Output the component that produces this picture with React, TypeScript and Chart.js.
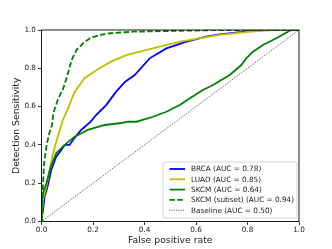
import React, { useEffect, useRef } from "react";
import { Chart, registerables } from "chart.js";

Chart.register(...registerables);

const brcaFpr = [0, 0.0, 0.006, 0.012, 0.023, 0.038, 0.057, 0.077, 0.09, 0.109, 0.122, 0.154, 0.19, 0.212, 0.251, 0.29, 0.325, 0.362, 0.42, 0.485, 0.563, 0.64, 0.692, 0.78, 0.85, 1.0];
const brcaTpr = [0, 0.01, 0.06, 0.13, 0.18, 0.27, 0.338, 0.373, 0.4, 0.4, 0.426, 0.478, 0.52, 0.556, 0.608, 0.678, 0.73, 0.765, 0.852, 0.904, 0.939, 0.965, 0.977, 0.99, 1.0, 1.0];

const luadFpr = [0, 0.005, 0.01, 0.019, 0.03, 0.045, 0.06, 0.077, 0.083, 0.103, 0.129, 0.167, 0.225, 0.27, 0.329, 0.432, 0.537, 0.692, 0.8, 0.9, 1.0];
const luadTpr = [0, 0.1, 0.14, 0.182, 0.26, 0.356, 0.43, 0.504, 0.53, 0.591, 0.678, 0.748, 0.8, 0.835, 0.869, 0.904, 0.939, 0.974, 0.99, 1.0, 1.0];

const skcmFpr = [0, 0.002, 0.006, 0.019, 0.036, 0.057, 0.09, 0.129, 0.18, 0.245, 0.304, 0.335, 0.369, 0.433, 0.485, 0.537, 0.576, 0.627, 0.666, 0.731, 0.776, 0.795, 0.821, 0.86, 0.912, 0.957, 0.97, 1.0];
const skcmTpr = [0, 0.1, 0.15, 0.2, 0.286, 0.356, 0.4, 0.443, 0.478, 0.504, 0.513, 0.521, 0.521, 0.547, 0.573, 0.608, 0.643, 0.687, 0.713, 0.765, 0.817, 0.852, 0.887, 0.922, 0.957, 0.991, 1.0, 1.0];

const subsetFpr = [0, 0.004, 0.01, 0.02, 0.03, 0.041, 0.046, 0.065, 0.083, 0.1, 0.117, 0.136, 0.162, 0.188, 0.227, 0.266, 0.355, 0.5, 0.7, 1.0];
const subsetTpr = [0, 0.15, 0.3, 0.4, 0.46, 0.504, 0.565, 0.643, 0.69, 0.76, 0.843, 0.896, 0.931, 0.957, 0.974, 0.983, 0.991, 0.995, 1.0, 1.0];

const baseFpr = [0, 1];
const baseTpr = [0, 1];

const seriesLabels = [
  "BRCA (AUC = 0.78)",
  "LUAD (AUC = 0.85)",
  "SKCM (AUC = 0.64)",
  "SKCM (subset) (AUC = 0.94)",
  "Baseline (AUC = 0.50)",
];
const axisTicks = [0, 0.2, 0.4, 0.6, 0.8, 1.0];

const FONT = "'DejaVu Sans', sans-serif";

const zip = (xs: number[], ys: number[]) => xs.map((x, i) => ({ x, y: ys[i] }));

const framePlugin = {
  id: "frame",
  afterDatasetsDraw(chart: any) {
    const { ctx, chartArea: a } = chart;
    ctx.save();
    ctx.strokeStyle = "#000";
    ctx.lineWidth = 0.9;
    ctx.strokeRect(a.left, a.top, a.right - a.left, a.bottom - a.top);
    ctx.restore();
  },
};

const legendPlugin = {
  id: "customLegend",
  afterDraw(chart: any) {
    const { ctx } = chart;
    const ds = chart.data.datasets;
    const x0 = 163, y0 = 162, w = 134, h = 56;
    ctx.save();
    ctx.beginPath();
    const r = 2;
    ctx.moveTo(x0 + r, y0);
    ctx.arcTo(x0 + w, y0, x0 + w, y0 + h, r);
    ctx.arcTo(x0 + w, y0 + h, x0, y0 + h, r);
    ctx.arcTo(x0, y0 + h, x0, y0, r);
    ctx.arcTo(x0, y0, x0 + w, y0, r);
    ctx.closePath();
    ctx.fillStyle = "rgba(255,255,255,0.85)";
    ctx.fill();
    ctx.strokeStyle = "#cccccc";
    ctx.lineWidth = 0.8;
    ctx.stroke();
    ctx.font = `7.3px ${FONT}`;
    ctx.textBaseline = "middle";
    ctx.textAlign = "left";
    ds.forEach((d: any, i: number) => {
      const y = 169 + i * 10.3;
      ctx.beginPath();
      ctx.strokeStyle = d.borderColor;
      ctx.lineWidth = d.borderWidth;
      ctx.setLineDash(d.borderDash || []);
      ctx.moveTo(169.5, y);
      ctx.lineTo(185, y);
      ctx.stroke();
      ctx.setLineDash([]);
      ctx.fillStyle = "#222";
      ctx.fillText(d.label, 191, y + 0.5);
    });
    ctx.restore();
  },
};

export default function App() {
  const ref = useRef<HTMLCanvasElement>(null);
  useEffect(() => {
    if (!ref.current) return;
    const tickFont = { family: FONT, size: 7.3 };
    const titleFont = { family: FONT, size: 9.3 };
    const chart = new Chart(ref.current, {
      type: "line",
      data: {
        datasets: [
          { label: seriesLabels[0], data: zip(brcaFpr, brcaTpr), borderColor: "#0000ff", borderWidth: 1.8, pointRadius: 0, order: 4 },
          { label: seriesLabels[1], data: zip(luadFpr, luadTpr), borderColor: "#bfbf00", borderWidth: 1.8, pointRadius: 0, order: 3 },
          { label: seriesLabels[2], data: zip(skcmFpr, skcmTpr), borderColor: "#008000", borderWidth: 1.8, pointRadius: 0, order: 2 },
          { label: seriesLabels[3], data: zip(subsetFpr, subsetTpr), borderColor: "#008000", borderWidth: 1.8, borderDash: [5.5, 2.4], pointRadius: 0, order: 1 },
          { label: seriesLabels[4], data: zip(baseFpr, baseTpr), borderColor: "#000000", borderWidth: 0.7, borderDash: [1, 1.2], pointRadius: 0, order: 0 },
        ] as any,
      },
      options: {
        animation: false,
        responsive: false,
        devicePixelRatio: 1,
        layout: { padding: { top: 30, right: 33, left: 0, bottom: 0 } },
        plugins: { legend: { display: false }, tooltip: { enabled: false } },
        elements: { line: { tension: 0 } },
        scales: {
          x: {
            type: "linear",
            min: 0,
            max: 1,
            afterBuildTicks: (s: any) => { s.ticks = axisTicks.map((v) => ({ value: v })); },
            afterFit: (s: any) => { s.height = 27.5; },
            ticks: { font: tickFont, color: "#222", padding: 0.5, maxRotation: 0, autoSkip: false, callback: (v: any) => Number(v).toFixed(1) },
            grid: { drawOnChartArea: false, tickLength: 3.5, color: "#000", lineWidth: 0.8 },
            border: { display: false },
            title: { display: true, text: "False positive rate", font: titleFont, color: "#222", padding: { top: 0, bottom: 3.3 } },
          },
          y: {
            type: "linear",
            min: 0,
            max: 1,
            afterBuildTicks: (s: any) => { s.ticks = axisTicks.map((v) => ({ value: v })); },
            afterFit: (s: any) => { s.width = 41.5; },
            ticks: { font: tickFont, color: "#222", padding: 2, autoSkip: false, callback: (v: any) => Number(v).toFixed(1) },
            grid: { drawOnChartArea: false, tickLength: 3.5, color: "#000", lineWidth: 0.8 },
            border: { display: false },
            title: { display: true, text: "Detection Sensitivity", font: titleFont, color: "#222", padding: { top: 11, bottom: 0 } },
          },
        },
      },
      plugins: [framePlugin, legendPlugin],
    } as any);
    return () => chart.destroy();
  }, []);
  return (
    <div style={{ position: "fixed", left: 0, top: 0, width: 332, height: 249, background: "#fff" }}>
      <canvas ref={ref} width={332} height={249} style={{ display: "block", width: 332, height: 249 }} />
    </div>
  );
}
